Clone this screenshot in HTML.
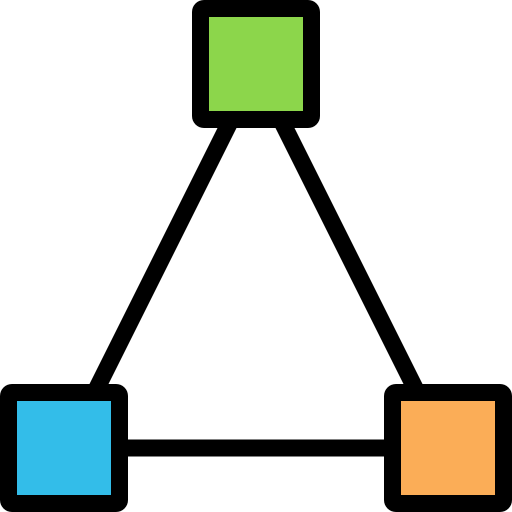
<!DOCTYPE html>
<html><head><meta charset="utf-8"><style>html,body{margin:0;padding:0;background:#fff}svg{display:block}</style></head>
<body>
<svg width="512" height="512" viewBox="0 0 512 512">
  <g stroke="#000" stroke-width="17" fill="none">
    <line x1="232" y1="118" x2="94" y2="394"/>
    <line x1="280" y1="118" x2="418" y2="394"/>
    <line x1="120" y1="448" x2="392" y2="448"/>
  </g>
  <rect x="192" y="0" width="128" height="128" rx="12" fill="#000"/>
  <rect x="209" y="17" width="94" height="94" fill="#8cd64b"/>
  <rect x="0" y="384" width="128" height="128" rx="12" fill="#000"/>
  <rect x="17" y="401" width="94" height="94" fill="#33bde9"/>
  <rect x="384" y="384" width="128" height="128" rx="12" fill="#000"/>
  <rect x="401" y="401" width="94" height="94" fill="#fbad57"/>
</svg>
</body></html>
